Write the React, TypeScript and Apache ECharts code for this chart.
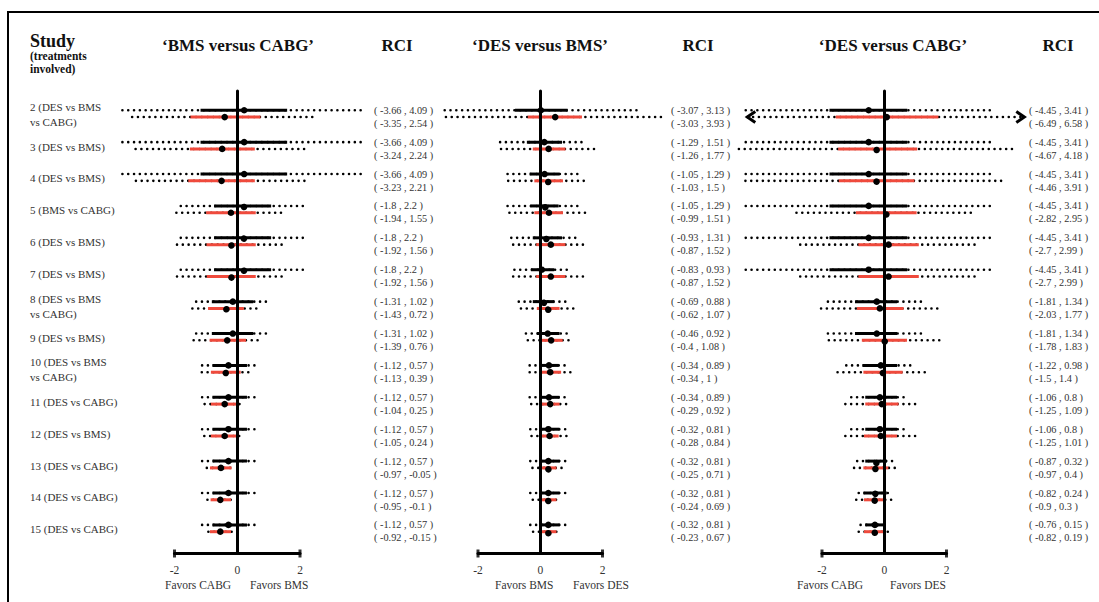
import React, { useEffect, useRef } from "react";
import * as echarts from "echarts";

// ---------- data ----------
const studies = [
  "2 (DES vs BMS\nvs CABG)",
  "3 (DES vs BMS)",
  "4 (DES vs BMS)",
  "5 (BMS vs CABG)",
  "6 (DES vs BMS)",
  "7 (DES vs BMS)",
  "8 (DES vs BMS\nvs CABG)",
  "9 (DES vs BMS)",
  "10 (DES vs BMS\nvs CABG)",
  "11 (DES vs CABG)",
  "12 (DES vs BMS)",
  "13 (DES vs CABG)",
  "14 (DES vs CABG)",
  "15 (DES vs CABG)",
];

const panelTitles = ["\u2018BMS versus CABG\u2019", "\u2018DES versus BMS\u2019", "\u2018DES versus CABG\u2019"];
const favorsLeft = ["Favors CABG", "Favors BMS", "Favors CABG"];
const favorsRight = ["Favors BMS", "Favors DES", "Favors DES"];
const axisEnds = [-2, 2];

// each row: [rciLo, rciHi, ciLo, ciHi, estimate]
const bmsCabgBlack = [
  [-3.66, 4.09, -1.17, 1.59, 0.22],
  [-3.66, 4.09, -1.17, 1.59, 0.22],
  [-3.66, 4.09, -1.17, 1.59, 0.22],
  [-1.8, 2.2, -0.74, 1.08, 0.21],
  [-1.8, 2.2, -0.74, 1.08, 0.21],
  [-1.8, 2.2, -0.74, 1.08, 0.21],
  [-1.31, 1.02, -0.81, 0.51, -0.14],
  [-1.31, 1.02, -0.81, 0.51, -0.14],
  [-1.12, 0.57, -0.79, 0.31, -0.28],
  [-1.12, 0.57, -0.79, 0.31, -0.28],
  [-1.12, 0.57, -0.79, 0.31, -0.28],
  [-1.12, 0.57, -0.79, 0.31, -0.28],
  [-1.12, 0.57, -0.79, 0.31, -0.28],
  [-1.12, 0.57, -0.79, 0.31, -0.28],
];
const bmsCabgRed = [
  [-3.35, 2.54, -1.49, 0.74, -0.4],
  [-3.24, 2.24, -1.51, 0.56, -0.48],
  [-3.23, 2.21, -1.56, 0.56, -0.5],
  [-1.94, 1.55, -0.99, 0.59, -0.2],
  [-1.92, 1.56, -0.98, 0.59, -0.19],
  [-1.92, 1.56, -0.97, 0.59, -0.19],
  [-1.43, 0.72, -0.93, 0.21, -0.35],
  [-1.39, 0.76, -0.88, 0.28, -0.32],
  [-1.13, 0.39, -0.84, 0.11, -0.37],
  [-1.04, 0.25, -0.84, 0.03, -0.4],
  [-1.05, 0.24, -0.84, 0.03, -0.4],
  [-0.97, -0.05, -0.87, -0.18, -0.52],
  [-0.95, -0.1, -0.85, -0.2, -0.54],
  [-0.92, -0.15, -0.87, -0.2, -0.54],
];
const desBmsBlack = [
  [-3.07, 3.13, -0.81, 0.88, 0.02],
  [-1.29, 1.51, -0.43, 0.7, 0.13],
  [-1.05, 1.29, -0.34, 0.62, 0.14],
  [-1.05, 1.29, -0.32, 0.59, 0.15],
  [-0.93, 1.31, -0.24, 0.7, 0.19],
  [-0.83, 0.93, -0.3, 0.45, 0.05],
  [-0.69, 0.88, -0.24, 0.45, 0.11],
  [-0.46, 0.92, -0.11, 0.62, 0.24],
  [-0.34, 0.89, 0, 0.59, 0.28],
  [-0.34, 0.89, 0, 0.62, 0.28],
  [-0.32, 0.81, -0.02, 0.62, 0.26],
  [-0.32, 0.81, -0.02, 0.62, 0.26],
  [-0.32, 0.81, -0.02, 0.62, 0.26],
  [-0.32, 0.81, -0.02, 0.62, 0.26],
];
const desBmsRed = [
  [-3.03, 3.93, -0.4, 1.34, 0.48],
  [-1.26, 1.77, -0.24, 0.81, 0.27],
  [-1.03, 1.5, -0.19, 0.73, 0.25],
  [-0.99, 1.51, -0.19, 0.73, 0.28],
  [-0.87, 1.52, -0.13, 0.81, 0.34],
  [-0.87, 1.52, -0.13, 0.81, 0.34],
  [-0.62, 1.07, -0.11, 0.62, 0.25],
  [-0.4, 1.08, 0, 0.72, 0.35],
  [-0.34, 1, 0.02, 0.67, 0.32],
  [-0.29, 0.92, 0.02, 0.62, 0.32],
  [-0.28, 0.84, 0.02, 0.59, 0.3],
  [-0.25, 0.71, 0.02, 0.52, 0.25],
  [-0.24, 0.69, 0.02, 0.52, 0.25],
  [-0.23, 0.67, 0.02, 0.52, 0.25],
];
const desCabgBlack = [
  [-4.45, 3.41, -1.76, 0.74, -0.5],
  [-4.45, 3.41, -1.76, 0.74, -0.5],
  [-4.45, 3.41, -1.76, 0.74, -0.5],
  [-4.45, 3.41, -1.76, 0.74, -0.5],
  [-4.45, 3.41, -1.76, 0.74, -0.5],
  [-4.45, 3.41, -1.76, 0.74, -0.5],
  [-1.81, 1.34, -0.94, 0.41, -0.24],
  [-1.81, 1.34, -0.94, 0.41, -0.24],
  [-1.22, 0.98, -0.7, 0.41, -0.11],
  [-1.06, 0.8, -0.61, 0.41, -0.14],
  [-1.06, 0.8, -0.61, 0.41, -0.14],
  [-0.87, 0.32, -0.61, 0.08, -0.27],
  [-0.82, 0.24, -0.67, 0.08, -0.29],
  [-0.76, 0.15, -0.61, 0.05, -0.3],
];
const desCabgRed = [
  [-6.49, 6.58, -1.56, 1.74, 0.08],
  [-4.67, 4.18, -1.48, 1.06, -0.25],
  [-4.46, 3.91, -1.46, 0.97, -0.25],
  [-2.82, 2.95, -0.91, 1.04, 0.05],
  [-2.7, 2.99, -0.83, 1.11, 0.14],
  [-2.7, 2.99, -0.83, 1.11, 0.14],
  [-2.03, 1.77, -0.88, 0.62, -0.14],
  [-1.78, 1.83, -0.72, 0.73, 0.01],
  [-1.5, 1.4, -0.67, 0.59, -0.05],
  [-1.25, 1.09, -0.61, 0.46, -0.08],
  [-1.25, 1.01, -0.65, 0.41, -0.11],
  [-0.97, 0.4, -0.67, 0.13, -0.29],
  [-0.9, 0.3, -0.65, 0, -0.31],
  [-0.82, 0.19, -0.65, -0.03, -0.31],
];

const panelData = [
  [bmsCabgBlack, bmsCabgRed],
  [desBmsBlack, desBmsRed],
  [desCabgBlack, desCabgRed],
];

// ---------- layout / style ----------
const FONT = '"Liberation Serif", "Times New Roman", serif';
const RED = "#ef4a3c";
const GRID_TOP = 91;
const GRID_H = 462.5;
const Y_MIN = -0.71;
const Y_MAX = 13.79;
const ARROW_LIMIT = 5; // values beyond are truncated with an arrow
const ARROW_TIP = [-4.4, 4.5];
const layouts = [
  { left: 174.5, width: 125.5, rciX: 374, rciHead: 397, titleX: 238, favL: 165, favR: 250 },
  { left: 478, width: 124.5, rciX: 671, rciHead: 698, titleX: 540, favL: 495, favR: 573 },
  { left: 822, width: 124.5, rciX: 1029, rciHead: 1058, titleX: 893, favL: 797, favR: 890 },
];

function forestRender(offset: number, solid: string, rciX: number, textDy: number) {
  return (params: any, api: any) => {
    const row = api.value(0);
    const lo = api.value(1);
    const hi = api.value(2);
    const ciLo = api.value(3);
    const ciHi = api.value(4);
    const est = api.value(5);
    const yc = api.coord([0, row])[1] + offset;
    const loCut = lo < -ARROW_LIMIT;
    const hiCut = hi > ARROW_LIMIT;
    const xLo = api.coord([loCut ? ARROW_TIP[0] : lo, row])[0];
    const xHi = api.coord([hiCut ? ARROW_TIP[1] : hi, row])[0];
    const xCiLo = api.coord([ciLo, row])[0];
    const xCiHi = api.coord([ciHi, row])[0];
    const xEst = api.coord([est, row])[0];
    const children: any[] = [
      {
        type: "line",
        shape: { x1: xLo, y1: yc, x2: xHi, y2: yc },
        style: { stroke: "#000", lineWidth: 2.6, lineDash: [0.01, 5.8], lineCap: "round" },
      },
      {
        type: "line",
        shape: { x1: xCiLo, y1: yc, x2: xCiHi, y2: yc },
        style: { stroke: solid, lineWidth: 3 },
      },
      {
        type: "circle",
        shape: { cx: xEst, cy: yc, r: 3.3 },
        style: { fill: "#000" },
      },
      {
        type: "text",
        x: rciX,
        y: yc + textDy,
        style: {
          text: `( ${lo} , ${hi} )`,
          font: `10.3px ${FONT}`,
          fill: "#333",
          textAlign: "left",
          textVerticalAlign: "middle",
        },
      },
    ];
    if (loCut) {
      children.push({
        type: "polyline",
        shape: { points: [[xLo + 8, yc - 5.5], [xLo, yc], [xLo + 8, yc + 5.5]] },
        style: { stroke: "#000", lineWidth: 3, fill: null },
      });
    }
    if (hiCut) {
      children.push({
        type: "polyline",
        shape: { points: [[xHi - 8, yc - 5.5], [xHi, yc], [xHi - 8, yc + 5.5]] },
        style: { stroke: "#000", lineWidth: 3, fill: null },
      });
    }
    return { type: "group", children };
  };
}

function buildOption() {
  const series: any[] = [];
  layouts.forEach((l, p) => {
    const [black, red] = panelData[p];
    series.push({
      type: "custom",
      xAxisIndex: p,
      yAxisIndex: p,
      clip: false,
      silent: true,
      data: black.map((r, i) => [i, ...r]),
      renderItem: forestRender(-3.4, "#000", l.rciX, 0),
    });
    series.push({
      type: "custom",
      xAxisIndex: p,
      yAxisIndex: p,
      clip: false,
      silent: true,
      data: red.map((r, i) => [i, ...r]),
      renderItem: forestRender(3.4, RED, l.rciX, 6.2),
    });
    series.push({
      type: "scatter",
      xAxisIndex: p,
      yAxisIndex: p,
      clip: false,
      silent: true,
      symbol: "rect",
      symbolSize: [3, 8],
      itemStyle: { color: "#000" },
      data: axisEnds.map((v) => [v, Y_MAX]),
      z: 6,
    });
  });
  series.push({
    type: "custom",
    xAxisIndex: 0,
    yAxisIndex: 0,
    clip: false,
    silent: true,
    data: studies.map((_, i) => [i]),
    renderItem: (params: any, api: any) => {
      const y = api.coord([0, api.value(0)])[1];
      return {
        type: "text",
        x: 30,
        y: y + 1,
        style: {
          text: studies[params.dataIndex],
          font: `11px ${FONT}`,
          lineHeight: 15,
          fill: "#333",
          textAlign: "left",
          textVerticalAlign: "middle",
        },
      };
    },
  });

  const graphic: any[] = [
    {
      type: "rect",
      silent: true,
      shape: { x: 8, y: 12, width: 1200, height: 700 },
      style: { fill: "none", stroke: "#000", lineWidth: 2 },
    },
    { type: "text", x: 30, y: 41, style: { text: "Study", font: `bold 18px ${FONT}`, fill: "#111", textVerticalAlign: "middle" } },
    { type: "text", x: 30, y: 56, style: { text: "(treatments", font: `bold 11.5px ${FONT}`, fill: "#111", textVerticalAlign: "middle" } },
    { type: "text", x: 30, y: 69, style: { text: "involved)", font: `bold 11.5px ${FONT}`, fill: "#111", textVerticalAlign: "middle" } },
  ];
  layouts.forEach((l, p) => {
    graphic.push({
      type: "text",
      x: l.titleX,
      y: 45,
      style: { text: panelTitles[p], font: `bold 17px ${FONT}`, fill: "#111", textAlign: "center", textVerticalAlign: "middle" },
    });
    graphic.push({
      type: "text",
      x: l.rciHead,
      y: 45,
      style: { text: "RCI", font: `bold 17px ${FONT}`, fill: "#111", textAlign: "center", textVerticalAlign: "middle" },
    });
    graphic.push({
      type: "text",
      x: l.favL,
      y: 585,
      style: { text: favorsLeft[p], font: `11.5px ${FONT}`, fill: "#333", textAlign: "left", textVerticalAlign: "middle" },
    });
    graphic.push({
      type: "text",
      x: l.favR,
      y: 585,
      style: { text: favorsRight[p], font: `11.5px ${FONT}`, fill: "#333", textAlign: "left", textVerticalAlign: "middle" },
    });
  });

  return {
    animation: false,
    backgroundColor: "#fff",
    grid: layouts.map((l) => ({ left: l.left, top: GRID_TOP, width: l.width, height: GRID_H })),
    xAxis: layouts.map((_, i) => ({
      type: "value",
      gridIndex: i,
      min: -2,
      max: 2,
      interval: 2,
      axisLine: { show: true, onZero: false, lineStyle: { color: "#000", width: 3 } },
      axisTick: { show: false },
      splitLine: { show: false },
      axisLabel: { show: true, color: "#333", fontFamily: FONT, fontSize: 11.5, margin: 10 },
    })),
    yAxis: layouts.map((_, i) => ({
      type: "value",
      gridIndex: i,
      inverse: true,
      min: Y_MIN,
      max: Y_MAX,
      axisLine: { show: true, onZero: true, lineStyle: { color: "#000", width: 3 } },
      axisTick: { show: false },
      axisLabel: { show: false },
      splitLine: { show: false },
      z: 5,
    })),
    graphic,
    series,
  };
}

export default function App() {
  const ref = useRef<HTMLDivElement>(null);
  useEffect(() => {
    const chart = echarts.init(ref.current!, null, { renderer: "svg" });
    chart.setOption(buildOption() as any);
    return () => chart.dispose();
  }, []);
  return (
    <div
      ref={ref}
      style={{ position: "fixed", left: 0, top: 0, width: 1099, height: 602, background: "#fff" }}
    />
  );
}
